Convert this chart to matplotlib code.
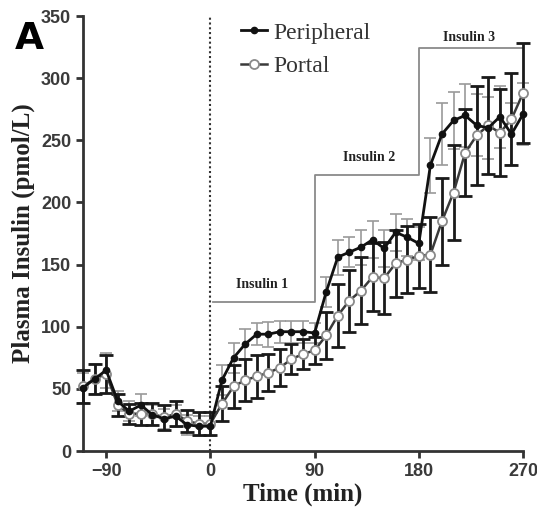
import matplotlib
matplotlib.use("Agg")
import matplotlib.pyplot as plt

# sampling times (min)
times = [-110, -100, -90, -80, -70, -60, -50, -40, -30, -20, -10, 0,
         10, 20, 30, 40, 50, 60, 70, 80, 90, 100, 110, 120, 130, 140,
         150, 160, 170, 180, 190, 200, 210, 220, 230, 240, 250, 260, 270]

peripheral = [51, 58, 65, 40, 32, 37, 29, 26, 28, 21, 20, 20,
              57, 75, 86, 94, 94, 96, 96, 96, 95, 128, 156, 160, 164, 170,
              163, 176, 172, 167, 230, 255, 266, 270, 262, 260, 269, 255, 271]
peripheral_se = [12, 12, 14, 8, 8, 9, 8, 8, 9, 8, 8, 8,
                 12, 12, 12, 9, 10, 9, 9, 9, 8, 12, 14, 12, 14, 15,
                 15, 15, 15, 13, 22, 25, 23, 25, 25, 25, 25, 25, 25]

portal = [52, 58, 62, 37, 30, 30, 30, 27, 30, 24, 22, 22,
          38, 52, 57, 60, 63, 67, 74, 78, 81, 93, 109, 121, 129, 140,
          139, 151, 154, 157, 158, 185, 208, 240, 254, 262, 256, 267, 288]
portal_se = [13, 12, 15, 9, 8, 9, 9, 10, 10, 9, 9, 9,
             14, 17, 17, 17, 15, 15, 12, 12, 11, 19, 25, 25, 27, 27,
             29, 27, 27, 26, 30, 35, 38, 35, 40, 39, 35, 37, 40]

# insulin infusion steps (schematic level on the same axis)
infusion_t = [2, 90, 90, 180, 180, 270]
infusion_level = [120, 120, 222, 222, 324, 324]
infusion_labels = ["Insulin 1", "Insulin 2", "Insulin 3"]
label_t = [45, 137, 223]
label_y = [134, 236, 333]

fig = plt.figure(figsize=(5.37, 5.12), dpi=100)
ax = fig.add_axes([0.1546, 0.1191, 0.8194, 0.8496])

ax.plot(infusion_t, infusion_level, color="#8a8a8a", lw=1.3, zorder=1)
for lab, lx, ly in zip(infusion_labels, label_t, label_y):
    ax.text(lx, ly, lab, ha="center", va="center", family="Liberation Serif",
            fontweight="bold", fontsize=10, color="#222")

ax.axvline(0, color="#333", lw=1.5, ls=(0, (1, 1.3)), zorder=1)

eb1 = ax.errorbar(times, peripheral, yerr=peripheral_se, fmt="none", ecolor="#9a9a9a",
                  elinewidth=1.2, capsize=4, capthick=1.2, zorder=2)
eb2 = ax.errorbar(times, portal, yerr=portal_se, fmt="none", ecolor="#1a1a1a",
                  elinewidth=2, capsize=5, capthick=2, zorder=3)
for eb in (eb1, eb2):
    for art in eb.lines[1] + eb.lines[2]:
        art.set_clip_on(False)

ax.plot(times, portal, color="#3a3a3a", lw=1.8, marker="o", ms=6.5,
        mfc="white", mec="#8a8a8a", mew=1.3, label="Portal", zorder=4,
        clip_on=False)
ax.plot(times, peripheral, color="#111", lw=2, marker="o", ms=4.5,
        mfc="#111", mec="#111", label="Peripheral", zorder=5, clip_on=False)

handles, labels = ax.get_legend_handles_labels()
leg = ax.legend(handles[::-1], labels[::-1], loc="upper left",
                bbox_to_anchor=(0.31, 1.035), frameon=False,
                prop={"family": "Liberation Serif", "size": 17},
                handlelength=1.1, handletextpad=0.3, labelspacing=0.5)
for t in leg.get_texts():
    t.set_color("#333")

ax.set_xlim(-110, 270)
ax.set_ylim(0, 350)
ax.set_xticks([-90, 0, 90, 180, 270])
ax.set_yticks([0, 50, 100, 150, 200, 250, 300, 350])

for s in ["top", "right"]:
    ax.spines[s].set_visible(False)
for s in ["left", "bottom"]:
    ax.spines[s].set_linewidth(2)
    ax.spines[s].set_color("#333")

ax.tick_params(width=2, length=5, color="#333", labelsize=13, labelcolor="#3a3a3a")
for lab in ax.get_xticklabels() + ax.get_yticklabels():
    lab.set_fontweight("bold")
    lab.set_family("Liberation Sans")

ax.set_xlabel("Time (min)", family="Liberation Serif", fontweight="bold",
              fontsize=18, color="#222", labelpad=2)
ax.set_ylabel("Plasma Insulin (pmol/L)", family="Liberation Serif",
              fontweight="bold", fontsize=18, color="#222", labelpad=4)

fig.text(0.027, 0.905, "A", family="DejaVu Sans", fontweight="bold",
         fontsize=27, color="black")

fig.savefig("out.png", dpi=100)
